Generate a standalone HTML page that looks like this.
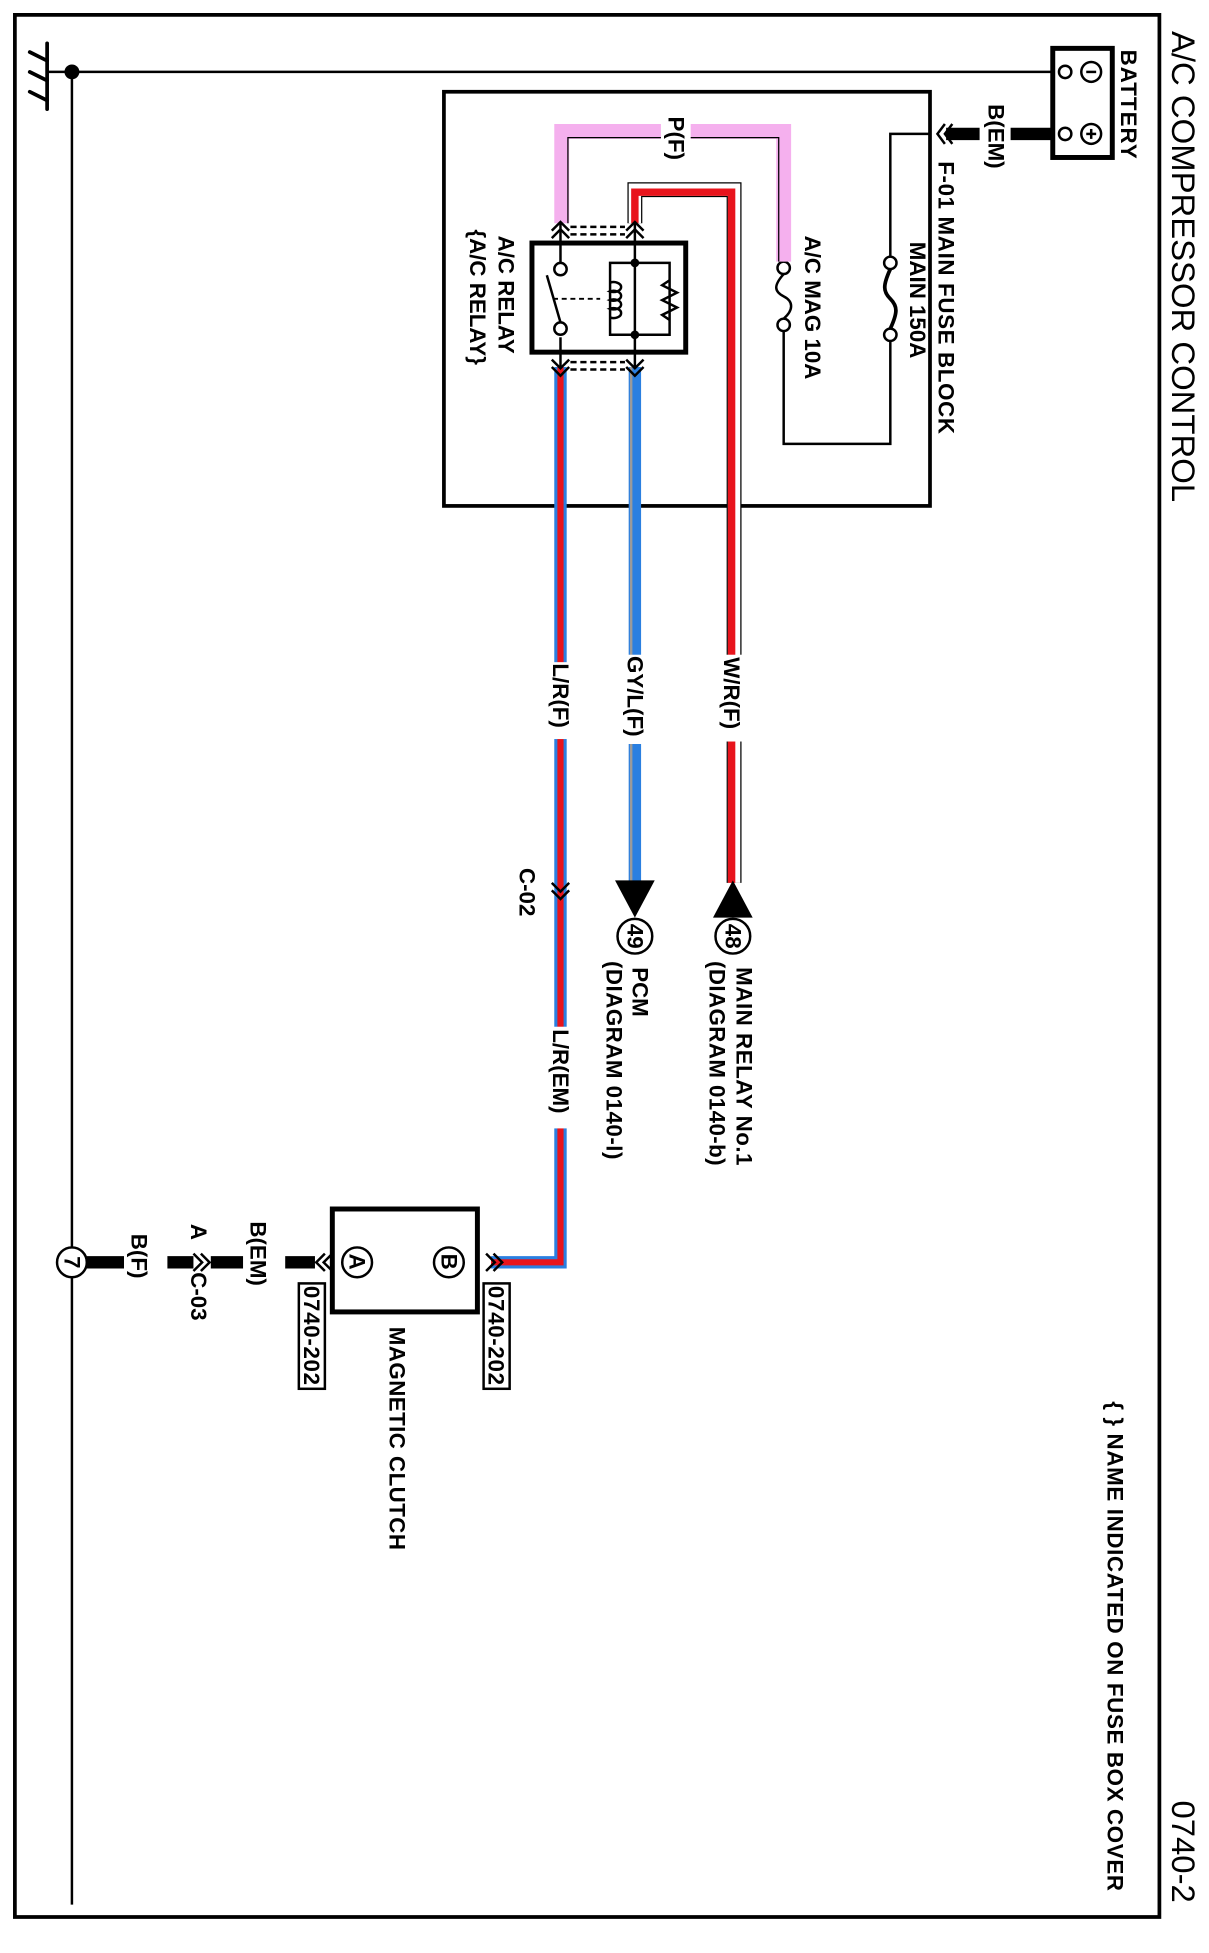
<!DOCTYPE html>
<html><head><meta charset="utf-8"><style>
html,body{margin:0;padding:0;background:#fff}
svg{display:block}
text{font-family:"Liberation Sans",sans-serif;fill:#000}
.l{font-size:18px;font-weight:bold}
</style></head><body>
<svg width="1209" height="1953" viewBox="0 0 975 1575" preserveAspectRatio="none" xmlns="http://www.w3.org/2000/svg">
<rect x="0" y="0" width="975" height="1575" fill="#fff"/>
<path d="M12 1546 L12 12 L935 12 L935 1546 Z" fill="none" stroke="#000" stroke-width="3"/>
<text x="945" y="25" font-size="26.5" transform="rotate(90 945 25)">A/C COMPRESSOR CONTROL</text>
<text x="945" y="1452" font-size="26.5" transform="rotate(90 945 1452)">0740-2</text>
<text x="893" y="1130" class="l" textLength="395" transform="rotate(90 893 1130)">{ } NAME INDICATED ON FUSE BOX COVER</text>

<line x1="38" y1="35" x2="38" y2="88" stroke="#000" stroke-width="3" stroke-linecap="round"/>
<g stroke="#000" stroke-width="3" stroke-linecap="round">
<line x1="24" y1="42" x2="38" y2="49"/><line x1="24" y1="58" x2="38" y2="65"/><line x1="24" y1="74" x2="38" y2="81"/>
<line x1="38" y1="58" x2="58" y2="58" stroke-width="2"/>
</g>
<line x1="58" y1="58" x2="850" y2="58" stroke="#000" stroke-width="2"/>
<line x1="58" y1="58" x2="58" y2="1536" stroke="#000" stroke-width="2"/>
<circle cx="58" cy="58" r="6" fill="#000"/>

<rect x="849" y="39" width="48" height="88" fill="#fff" stroke="#000" stroke-width="4"/>
<circle cx="859" cy="58" r="5" fill="#fff" stroke="#000" stroke-width="2"/>
<circle cx="880" cy="58" r="8" fill="#fff" stroke="#000" stroke-width="2"/>
<line x1="876" y1="58" x2="884" y2="58" stroke="#000" stroke-width="2"/>
<circle cx="859" cy="108" r="5" fill="#fff" stroke="#000" stroke-width="2"/>
<circle cx="880" cy="108" r="8" fill="#fff" stroke="#000" stroke-width="2"/>
<line x1="880" y1="104" x2="880" y2="112" stroke="#000" stroke-width="2"/>
<line x1="876" y1="108" x2="884" y2="108" stroke="#000" stroke-width="2"/>
<text x="904" y="40" class="l" textLength="88" transform="rotate(90 904 40)">BATTERY</text>
<line x1="815" y1="108" x2="849" y2="108" stroke="#000" stroke-width="10"/>
<line x1="763" y1="108" x2="790" y2="108" stroke="#000" stroke-width="10"/>
<text x="797" y="84" class="l" transform="rotate(90 797 84)">B(EM)</text>
<polyline points="762,100 756,108 762,116" fill="none" stroke="#000" stroke-width="2"/>
<polyline points="768,100 762,108 768,116" fill="none" stroke="#000" stroke-width="2"/>

<rect x="358" y="74" width="392" height="334" fill="none" stroke="#000" stroke-width="3"/>
<text x="757" y="130" class="l" textLength="220" transform="rotate(90 757 130)">F-01  MAIN FUSE BLOCK</text>
<polyline points="750,108 718,108 718,358 632,358 632,266" fill="none" stroke="#000" stroke-width="2"/>
<line x1="718" y1="210" x2="718" y2="272" stroke="#fff" stroke-width="6"/>
<circle cx="718" cy="212" r="5" fill="#fff" stroke="#000" stroke-width="2"/>
<circle cx="718" cy="270" r="5" fill="#fff" stroke="#000" stroke-width="2"/>
<path d="M718 217 C712 230,712 235,718 241 C724 247,724 252,718 265" fill="none" stroke="#000" stroke-width="3"/>
<text x="734" y="195" class="l" transform="rotate(90 734 195)">MAIN 150A</text>
<circle cx="632" cy="216" r="5" fill="#fff" stroke="#000" stroke-width="2"/>
<circle cx="632" cy="262" r="5" fill="#fff" stroke="#000" stroke-width="2"/>
<path d="M632 221 C624 230,624 235,632 239 C640 243,640 250,632 257" fill="none" stroke="#000" stroke-width="2"/>
<text x="649" y="190" class="l" transform="rotate(90 649 190)">A/C MAG 10A</text>

<polyline points="632,211 632,106 453,106 453,180" fill="none" stroke="#f5b0ee" stroke-width="12"/>
<polyline points="628,211 628,111 458,111 458,180" fill="none" stroke="#000" stroke-width="1"/>
<rect x="533" y="93" width="24" height="40" fill="#fff"/>
<text x="539" y="94" class="l" transform="rotate(90 539 94)">P(F)</text>

<polyline points="512,180 512,153 592,153 592,712" fill="none" stroke="#000" stroke-width="12"/>
<polyline points="512,180 512,153 592,153 592,712" fill="none" stroke="#fff" stroke-width="10"/>
<polyline points="512,180 512,155 590,155 590,712" fill="none" stroke="#e8141c" stroke-width="6"/>
<rect x="576" y="528" width="30" height="70" fill="#fff"/>
<text x="584" y="530" class="l" transform="rotate(90 584 530)">W/R(F)</text>

<polyline points="452,296 452,1018 396,1018" fill="none" stroke="#2a7fe0" stroke-width="10"/>
<polyline points="452,296 452,1018 396,1018" fill="none" stroke="#e8141c" stroke-width="5"/>
<rect x="437" y="534" width="30" height="62" fill="#fff"/>
<text x="446" y="535" class="l" transform="rotate(90 446 535)">L/R(F)</text>
<rect x="437" y="828" width="30" height="82" fill="#fff"/>
<text x="446" y="830" class="l" transform="rotate(90 446 830)">L/R(EM)</text>
<polyline points="445,712 452,719 459,712" fill="none" stroke="#000" stroke-width="2"/>
<polyline points="445,718 452,725 459,718" fill="none" stroke="#000" stroke-width="2"/>
<text x="419" y="700" class="l" transform="rotate(90 419 700)">C-02</text>

<line x1="512" y1="296" x2="512" y2="712" stroke="#2a7fe0" stroke-width="10"/>
<line x1="509" y1="296" x2="509" y2="712" stroke="#9a9a9a" stroke-width="2"/>
<rect x="497" y="528" width="30" height="72" fill="#fff"/>
<text x="506" y="529" class="l" transform="rotate(90 506 529)">GY/L(F)</text>
<polygon points="496,710 528,710 512,740" fill="#000"/>
<circle cx="512" cy="755" r="14" fill="#fff" stroke="#000" stroke-width="2"/>
<text x="506" y="745" class="l" transform="rotate(90 506 745)">49</text>
<text x="510" y="780" class="l" transform="rotate(90 510 780)">PCM</text>
<text x="489" y="775" class="l" textLength="160" transform="rotate(90 489 775)">(DIAGRAM 0140-l)</text>

<polygon points="575,740 607,740 591,710" fill="#000"/>
<circle cx="591" cy="755" r="14" fill="#fff" stroke="#000" stroke-width="2"/>
<text x="585" y="745" class="l" transform="rotate(90 585 745)">48</text>
<text x="594" y="780" class="l" textLength="160" transform="rotate(90 594 780)">MAIN RELAY No.1</text>
<text x="572" y="775" class="l" textLength="165" transform="rotate(90 572 775)">(DIAGRAM 0140-b)</text>

<rect x="429" y="196" width="124" height="88" fill="#fff" stroke="#000" stroke-width="4"/>
<line x1="452" y1="180" x2="452" y2="212" stroke="#000" stroke-width="2"/>
<line x1="452" y1="272" x2="452" y2="296" stroke="#000" stroke-width="2"/>
<circle cx="452" cy="217" r="5" fill="#fff" stroke="#000" stroke-width="2"/>
<circle cx="452" cy="265" r="5" fill="#fff" stroke="#000" stroke-width="2"/>
<line x1="441" y1="222" x2="452" y2="260" stroke="#000" stroke-width="2"/>
<line x1="446" y1="241" x2="484" y2="241" stroke="#000" stroke-width="1.5" stroke-dasharray="4 3"/>
<line x1="512" y1="180" x2="512" y2="296" stroke="#000" stroke-width="2"/>
<polyline points="512,212 492,212 492,270 512,270" fill="none" stroke="#000" stroke-width="2"/>
<polyline points="512,212 540,212 540,270 512,270" fill="none" stroke="#000" stroke-width="2"/>
<path d="M492 228 a6 4 0 1 1 0 7 a6 4 0 1 1 0 7 a6 4 0 1 1 0 7 a6 4 0 1 1 0 7" fill="none" stroke="#000" stroke-width="2"/>
<polyline points="540,226 534,230 546,236 534,242 546,248 534,254 540,258" fill="none" stroke="#000" stroke-width="2"/>
<circle cx="512" cy="212" r="3.5" fill="#000"/><circle cx="512" cy="270" r="3.5" fill="#000"/>
<g fill="none" stroke="#000" stroke-width="2">
<polyline points="445,186 452,179 459,186"/><polyline points="445,192 452,185 459,192"/>
<polyline points="505,186 512,179 519,186"/><polyline points="505,192 512,185 519,192"/>
<polyline points="445,290 452,297 459,290"/><polyline points="445,296 452,303 459,296"/>
<polyline points="505,290 512,297 519,290"/><polyline points="505,296 512,303 519,296"/>
<line x1="460" y1="183" x2="504" y2="183" stroke-dasharray="5 3"/><line x1="460" y1="189" x2="504" y2="189" stroke-dasharray="5 3"/>
<line x1="460" y1="292" x2="504" y2="292" stroke-dasharray="5 3"/><line x1="460" y1="298" x2="504" y2="298" stroke-dasharray="5 3"/>
</g>
<text x="402" y="190" class="l" transform="rotate(90 402 190)">A/C RELAY</text>
<text x="379" y="185" class="l" transform="rotate(90 379 185)">{A/C RELAY}</text>

<rect x="268" y="975" width="117" height="83" fill="#fff" stroke="#000" stroke-width="4"/>
<circle cx="288" cy="1018" r="12" fill="#fff" stroke="#000" stroke-width="2"/>
<text x="282" y="1011" class="l" transform="rotate(90 282 1011)">A</text>
<circle cx="362" cy="1018" r="12" fill="#fff" stroke="#000" stroke-width="2"/>
<text x="356" y="1011" class="l" transform="rotate(90 356 1011)">B</text>
<text x="314" y="1070" class="l" textLength="180" transform="rotate(90 314 1070)">MAGNETIC CLUTCH</text>
<g fill="none" stroke="#000" stroke-width="2">
<polyline points="392,1011 399,1018 392,1025"/><polyline points="398,1011 405,1018 398,1025"/>
<polyline points="262,1011 255,1018 262,1025"/><polyline points="268,1011 261,1018 268,1025"/>
<polyline points="156,1011 163,1018 156,1025"/><polyline points="162,1011 169,1018 162,1025"/>
</g>
<rect x="241" y="1035" width="21" height="85" fill="#fff" stroke="#000" stroke-width="2"/>
<text x="245" y="1037" class="l" textLength="80" transform="rotate(90 245 1037)">0740-202</text>
<rect x="390" y="1035" width="21" height="85" fill="#fff" stroke="#000" stroke-width="2"/>
<text x="394" y="1037" class="l" textLength="80" transform="rotate(90 394 1037)">0740-202</text>
<line x1="230" y1="1018" x2="254" y2="1018" stroke="#000" stroke-width="10"/>
<line x1="170" y1="1018" x2="196" y2="1018" stroke="#000" stroke-width="10"/>
<line x1="135" y1="1018" x2="156" y2="1018" stroke="#000" stroke-width="10"/>
<line x1="70" y1="1018" x2="100" y2="1018" stroke="#000" stroke-width="10"/>
<text x="202" y="985" class="l" transform="rotate(90 202 985)">B(EM)</text>
<text x="154" y="987" class="l" transform="rotate(90 154 987)">A</text>
<text x="154" y="1026" class="l" transform="rotate(90 154 1026)">C-03</text>
<text x="106" y="995" class="l" transform="rotate(90 106 995)">B(F)</text>
<circle cx="58" cy="1018" r="12" fill="#fff" stroke="#000" stroke-width="2"/>
<text x="52" y="1013" class="l" transform="rotate(90 52 1013)">7</text>
</svg>
</body></html>
